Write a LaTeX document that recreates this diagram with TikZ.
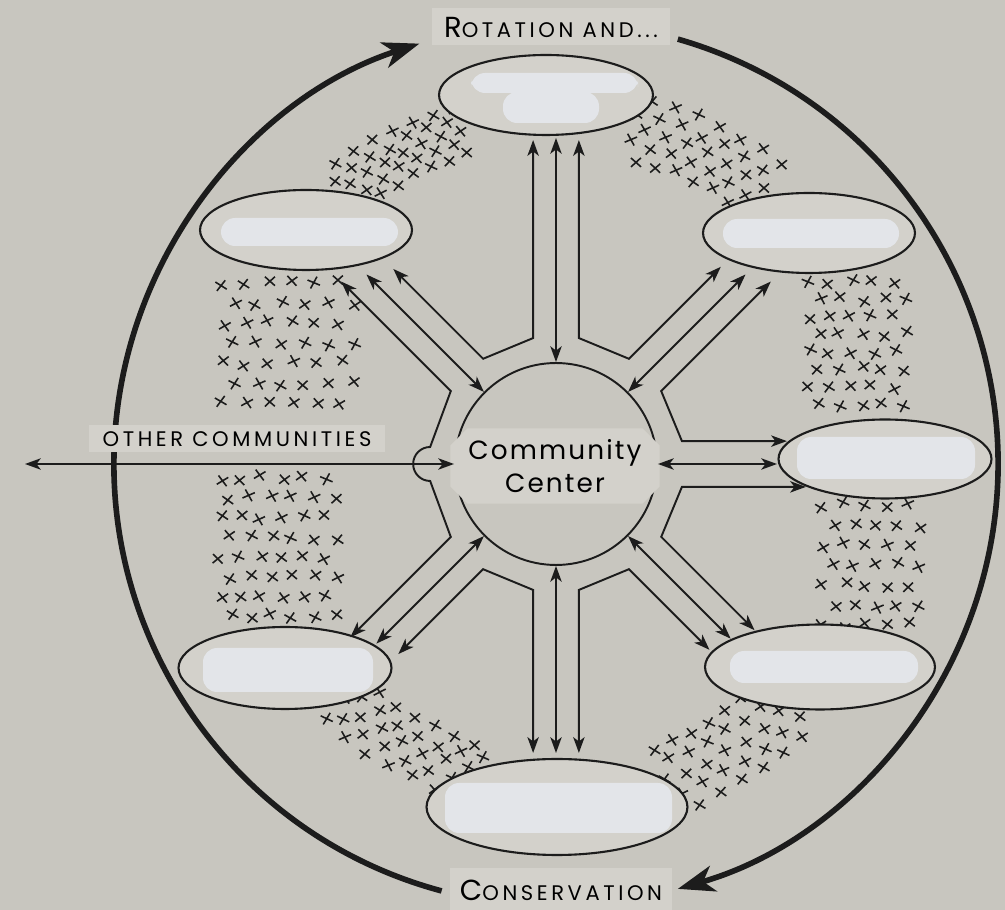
\documentclass[tikz,border=0pt]{standalone}
\usepackage{fontspec}
\newfontfamily\leroy{Poppins}[LetterSpace=8]
\newfontfamily\leroycaps{Poppins}[LetterSpace=17]
\usetikzlibrary{shapes,arrows.meta,positioning,calc}

\definecolor{board}{RGB}{200,198,191}
\definecolor{paper}{RGB}{211,209,203}
\definecolor{blank}{RGB}{227,229,233}
\definecolor{ink}{RGB}{28,28,28}

\begin{document}
\begin{tikzpicture}[
    x=0.02cm, y=0.02cm,
    >={Stealth[length=9pt,width=6.5pt,inset=2.5pt]},
    wire/.style={draw=ink, line width=1.1pt},
    link/.style={wire, <->},
    loopline/.style={draw=ink, line width=3.2pt, -{Stealth[length=21pt,width=15pt,inset=6pt]}},
    community/.style={ellipse, draw=ink, line width=1.2pt, fill=paper, inner sep=0pt},
    tag/.style={fill=paper, inner sep=0pt, font=\leroycaps},
    blot/.style={fill=blank, rounded corners=8pt},
    xmark/.pic={\draw[ink, line width=0.9pt] (-5,-4.5) -- (5,4.5) (-5,4.5) -- (5,-4.5);}
  ]
  \useasboundingbox (0,0) rectangle (1005,910);
  \fill[board] (0,0) rectangle (1005,910);
  \coordinate (o) at (556,446);

  % the big cycle
  \draw[loopline] ($(o)+(255:442)$) arc[start angle=255, end angle=108, radius=442];
  \draw[loopline] ($(o)+(74:442)$) arc[start angle=74, end angle=-74, radius=442];

  \node[tag, minimum width=4.76cm, minimum height=0.74cm] (rot) at (551,883)
    {\fontsize{16.5}{16}\selectfont R\fontsize{12}{12}\selectfont OTATION AND...};
  \node[tag, minimum width=4.44cm, minimum height=0.9cm, anchor=north] (cons) at (561,42)
    {\fontsize{16.5}{16}\selectfont C\fontsize{12}{12}\selectfont ONSERVATION};
  \node[tag, minimum width=5.94cm, minimum height=0.54cm] (ocl) at (237,471)
    {\fontsize{12}{12}\selectfont OTHER COMMUNITIES};

  % fields
  \pgfmathsetseed{11}
  \foreach \a/\b/\r/\s in {106/128/322/370, 53/77/315/375, 228/256/290/345, 289/314/300/368}
    \foreach \i in {0,...,6}
      \foreach \j in {0,...,4}
        {
        \pgfmathsetmacro\ang{\a+(\b-\a)*(\i+0.5*mod(\j,2))/6.5}
        \pgfmathsetmacro\rad{\r+(\s-\r)*\j/4+3*rand}
        \pgfmathsetmacro\tilt{20*rand}
        \pic[rotate=\tilt] at ($(o)+(\ang:\rad)$) {xmark};
        }
  \foreach \x/\y/\w/\h/\nx/\ny in {222/627/130/120/5/6, 220/432/115/138/5/7, 808/628/97/122/4/7, 823/405/97/120/4/6}
    \foreach \i in {0,...,\nx}
      \foreach \j in {0,...,\ny}
        {
        \pgfmathsetmacro\px{\x+\w*(\i+0.5*mod(\j,2))/(\nx+0.5)+3*rand}
        \pgfmathsetmacro\py{\y-\h*\j/\ny+3*rand}
        \pgfmathsetmacro\tilt{20*rand}
        \pic[rotate=\tilt] at (\px,\py) {xmark};
        }

  % communities
  \node[community, minimum width=4.28cm, minimum height=1.6cm] (en) at (546,815) {};
  \node[community, minimum width=4.24cm, minimum height=1.6cm] (enw) at (306,680) {};
  \node[community, minimum width=4.24cm, minimum height=1.6cm] (ene) at (809,677) {};
  \node[community, minimum width=4.26cm, minimum height=1.58cm] (ee) at (885,451) {};
  \node[community, minimum width=4.6cm, minimum height=1.7cm] (ese) at (820,243) {};
  \node[community, minimum width=5.22cm, minimum height=1.92cm] (es) at (557,103) {};
  \node[community, minimum width=4.26cm, minimum height=1.64cm] (esw) at (285,242) {};

  % blanked names
  \fill[blot] ($(en)+(-75,2)$) rectangle ($(en)+(92,22)$);
  \fill[blot] ($(en)+(-43,-28)$) rectangle ($(en)+(53,3)$);
  \fill[blot] ($(enw)+(-85,-16)$) rectangle ($(enw)+(92,12)$);
  \fill[blot] ($(ene)+(-86,-15)$) rectangle ($(ene)+(90,14)$);
  \fill[blot] ($(ee)+(-88,-20)$) rectangle ($(ee)+(90,22)$);
  \fill[blot] ($(ese)+(-90,-16)$) rectangle ($(ese)+(98,16)$);
  \fill[blot] ($(es)+(-112,-26)$) rectangle ($(es)+(115,24)$);
  \fill[blot] ($(esw)+(-82,-24)$) rectangle ($(esw)+(88,20)$);

  % center and roads
  \node[circle, draw=ink, line width=1.1pt, minimum size=4.04cm, inner sep=0pt] (cc) at (o) {};
  \node[chamfered rectangle, chamfered rectangle xsep=7pt, fill=paper, minimum width=3.3cm,
        minimum height=1.45cm, align=center, font=\leroy\fontsize{15}{19}\selectfont] (ccl) at (555,444)
    {Community\\Center};

  \foreach \a/\b/\p/\q in {90/135/198/127, 225/270/120/163, 270/315/163/114,
                           315/360/132/124, 0/45/105/155, 45/90/130/198}
    \draw[link] ($(o)+(\a+10.3:128)+(\a:\p)$) -- ($(o)+(\a+10.3:128)$)
      -- ($(o)+(\b-10.3:128)$) -- ($(o)+(\b-10.3:128)+(\b:\q)$);
  \draw[link] ($(o)+(145.3:128)+(135:155)$) -- ($(o)+(145.3:128)$) -- ($(o)+(172.3:127)$)
    arc[start angle=90, end angle=270, radius=17] -- ($(o)+(214.7:128)$) -- ++(225:142);

  \foreach \a/\m/\n in {90/326/n, 45/268/ne, 0/221/e, -45/247/se, -90/289/s, 225/254/sw, 135/268/nw}
    {
    \coordinate (m\n) at ($(o)+(\a:\m)$);
    \draw[link] (cc) -- (m\n);
    }
  \coordinate (far) at (25,446);
  \draw[link] (cc) -- (far);
\end{tikzpicture}
\end{document}
